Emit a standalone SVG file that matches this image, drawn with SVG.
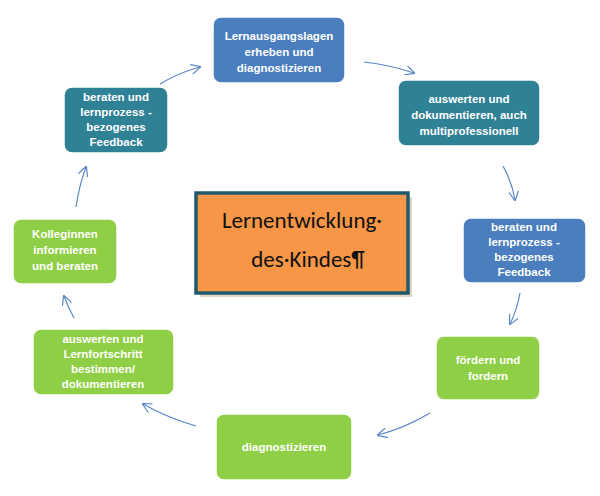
<svg xmlns="http://www.w3.org/2000/svg" width="600" height="496" viewBox="0 0 600 496">
<style>
.n{stroke:#fff;stroke-width:1.5}
.b{fill:#4a7ebe}.t{fill:#2f8196}.g{fill:#8fcf45}
.l{font-family:"Liberation Sans",Arial,sans-serif;font-weight:bold;font-size:11.5px;fill:#fff;text-anchor:middle}
.c{fill:none;stroke:#5b86c5;stroke-width:1.2;marker-end:url(#a)}
</style>
<defs>
<marker id="a" viewBox="0 0 10 10" refX="9" refY="5" markerWidth="10" markerHeight="10" orient="auto" markerUnits="userSpaceOnUse"><path d="M0,0L10,5L0,10" fill="none" stroke="#5b86c5" stroke-width="1.2"/></marker>
</defs>
<rect width="600" height="496" fill="#fff"/>
<g id="connectors">
<path class="c" d="M364,62 Q390,65 414,73"/>
<path class="c" d="M503,166 Q512,182 515,200"/>
<path class="c" d="M520,293 Q517,310 510,324"/>
<path class="c" d="M430,413 Q405,428 378,435"/>
<path class="c" d="M196,426 Q168,418 143,404"/>
<path class="c" d="M74,318 Q68,307 64,296"/>
<path class="c" d="M76,207 Q79,186 86,167"/>
<path class="c" d="M160,84 Q178,73 200,67"/>
</g>
<g id="center">
<rect x="200" y="197" width="212" height="100" fill="#c9b79e" opacity="0.6"/>
<rect x="196" y="193" width="212" height="100" fill="#f79646" stroke="#215a6a" stroke-width="3.5"/>
<text x="302" y="228" font-family="Calibri,'Liberation Sans',sans-serif" font-size="23" fill="#111" text-anchor="middle">Lernentwicklung·</text>
<text x="308" y="267" font-family="Calibri,'Liberation Sans',sans-serif" font-size="23" fill="#111" text-anchor="middle">des·Kindes¶</text>
</g>
<g id="n1"><rect class="n b" x="213" y="17" width="132" height="66" rx="8"/><text class="l" x="279" y="40">Lernausgangslagen<tspan x="279" dy="16">erheben und</tspan><tspan x="279" dy="16">diagnostizieren</tspan></text></g>
<g id="n2"><rect class="n t" x="398" y="80" width="142" height="66" rx="8"/><text class="l" x="469" y="103">auswerten und<tspan x="469" dy="16">dokumentieren, auch</tspan><tspan x="469" dy="16">multiprofessionell</tspan></text></g>
<g id="n3"><rect class="n b" x="463" y="218" width="123" height="65" rx="8"/><text class="l" x="524" y="231">beraten und<tspan x="524" dy="15">lernprozess -</tspan><tspan x="524" dy="15">bezogenes</tspan><tspan x="524" dy="15">Feedback</tspan></text></g>
<g id="n4"><rect class="n g" x="436" y="336" width="104" height="64" rx="8"/><text class="l" x="488" y="364">fördern und<tspan x="488" dy="16">fordern</tspan></text></g>
<g id="n5"><rect class="n g" x="216" y="414" width="136" height="66" rx="8"/><text class="l" x="284" y="451">diagnostizieren</text></g>
<g id="n6"><rect class="n g" x="33" y="329" width="141" height="66" rx="8"/><text class="l" x="103" y="343">auswerten und<tspan x="103" dy="15">Lernfortschritt</tspan><tspan x="103" dy="15">bestimmen/</tspan><tspan x="103" dy="15">dokumentieren</tspan></text></g>
<g id="n7"><rect class="n g" x="13" y="219" width="104" height="65" rx="8"/><text class="l" x="65" y="238">Kolleginnen<tspan x="65" dy="16">informieren</tspan><tspan x="65" dy="16">und beraten</tspan></text></g>
<g id="n8"><rect class="n t" x="64" y="87" width="104" height="66" rx="8"/><text class="l" x="116" y="101">beraten und<tspan x="116" dy="15">lernprozess -</tspan><tspan x="116" dy="15">bezogenes</tspan><tspan x="116" dy="15">Feedback</tspan></text></g>
</svg>
